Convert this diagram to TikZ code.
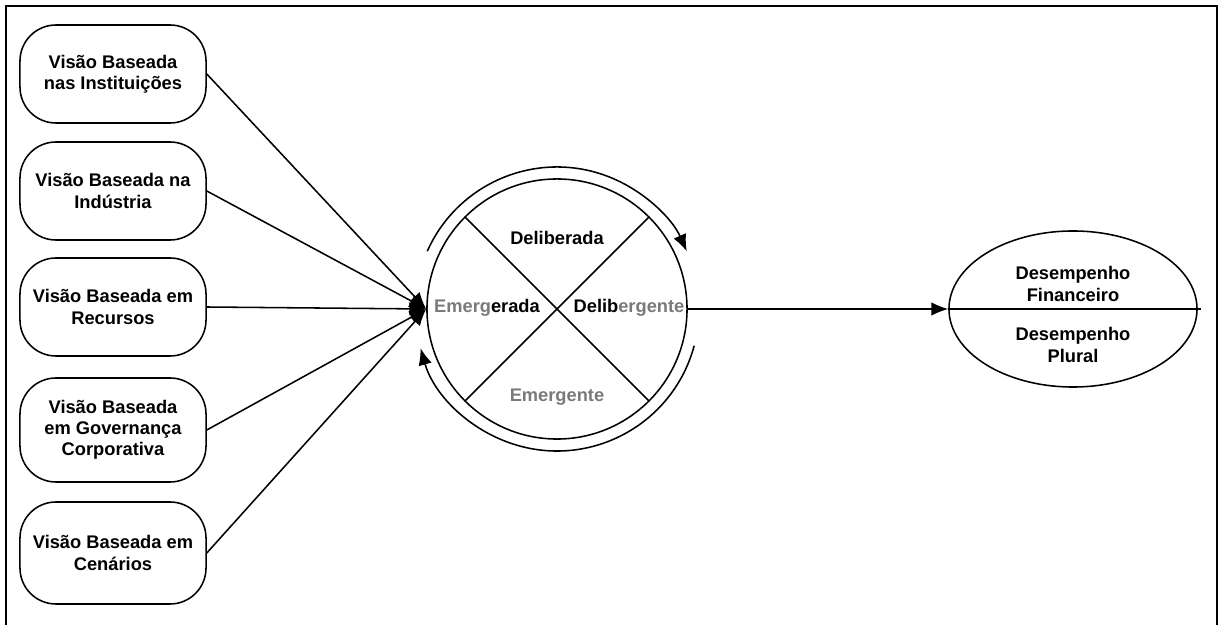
\documentclass[tikz,border=0pt]{standalone}
\usepackage{fontspec}
\setmainfont{Liberation Sans}
\usepackage{xcolor}
\usetikzlibrary{arrows.meta,positioning,shapes.geometric,calc}

\begin{document}
\begin{tikzpicture}[
  x=0.025cm, y=0.025cm,
  font=\fontsize{13}{15}\selectfont\bfseries,
  every node/.style={align=center},
  vis/.style={draw=black, line width=1.1pt, rounded corners=0.9cm,
              minimum width=4.65cm, minimum height=2.45cm, inner sep=2pt},
  strat/.style={draw=black, line width=1.1pt, circle, minimum size=6.5cm,
                inner sep=0pt},
  perf/.style={draw=black, line width=1.1pt, ellipse, minimum width=6.2cm,
               minimum height=3.9cm, inner sep=0pt},
  e/.style={-{Latex[length=4.2mm,width=3.4mm]}, draw=black, line width=1.1pt},
  ln/.style={draw=black, line width=1.1pt},
  gr/.style={text=black!52},
]
\useasboundingbox (0,0) rectangle (1219,625);
\draw[ln] (6,-2) -- (6,619) -- (1217,619) -- (1217,-2);
% left column
\node[vis] (v1) at (113,551) {Visão Baseada\\nas Instituições};
\node[vis] (v2) at (113,434) {Visão Baseada na\\Indústria};
\node[vis] (v3) at (113,318) {Visão Baseada em\\Recursos};
\node[vis, minimum height=2.6cm] (v4) at (113,195) {Visão Baseada\\em Governança\\Corporativa};
\node[vis, minimum height=2.55cm] (v5) at (113,72) {Visão Baseada em\\Cenários};
% strategy circle
\node[strat] (st) at (557,316) {};
\draw[ln] (st.135) -- (st.-45);
\draw[ln] (st.45) -- (st.-135);
\node (delib) at (557,387) {Deliberada};
\node[gr] (emgt) at (557,228) {Emergente};
\node (emer) at (487,317) {\textcolor{black!52}{Emerg}erada};
\node (dlbg) at (629,317) {Delib\textcolor{black!52}{ergente}};
\draw[e] ($(st.center)+(156:142)$) arc[start angle=156, end angle=24, radius=142];
\draw[e] ($(st.center)+(-15:142)$) arc[start angle=-15, end angle=-164, radius=142];
\foreach \v in {v1,v2,v3,v4,v5}
  \draw[e] (\v.east) -- (st.west);
% performance
\node[perf] (pf) at (1073,316) {};
\draw[ln] (pf.west) -- ([xshift=2pt]pf.east);
\node (fin) at (1073,341) {Desempenho\\Financeiro};
\node (plu) at (1073,280) {Desempenho\\Plural};
\draw[e] (st.east) -- (pf.west);
\end{tikzpicture}
\end{document}
